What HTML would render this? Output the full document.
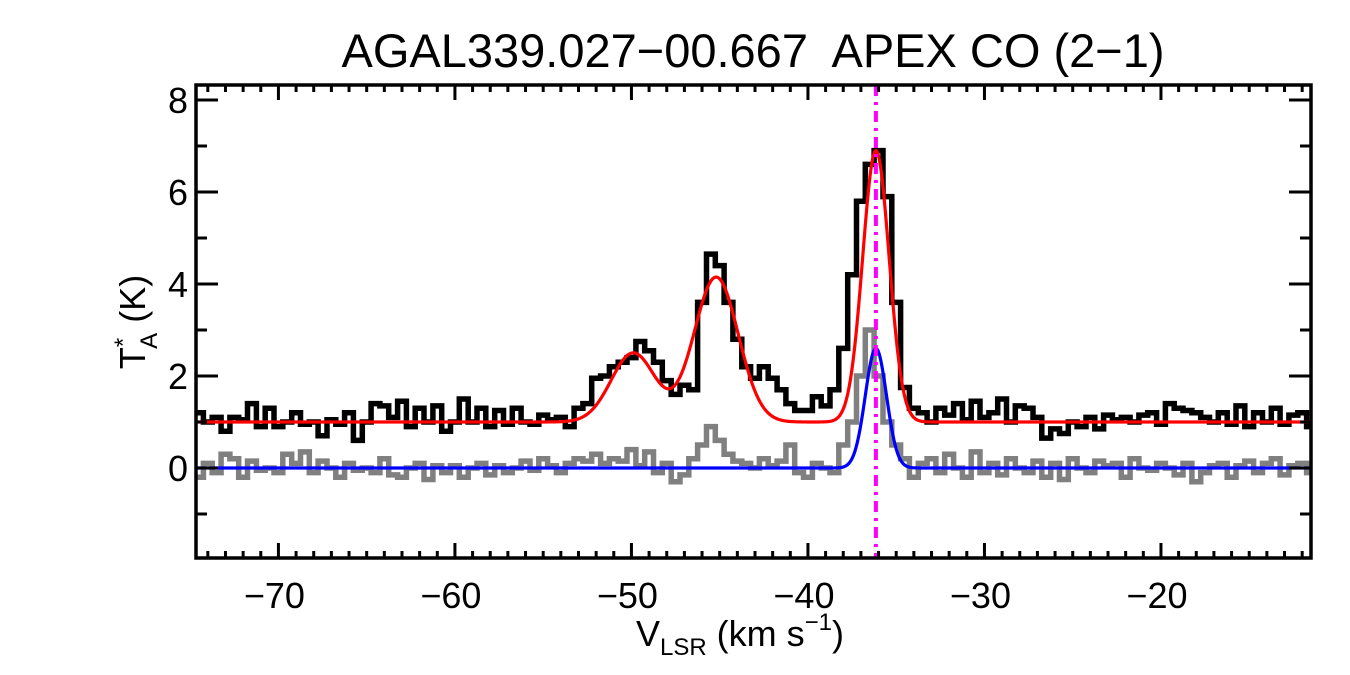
<!DOCTYPE html>
<html><head><meta charset="utf-8"><style>
body{margin:0;background:#fff;}
svg{display:block;font-family:"Liberation Sans",sans-serif;}
</style></head><body>
<svg id="chart" width="1350" height="675" viewBox="0 0 1350 675" xmlns="http://www.w3.org/2000/svg">
<text x="753" y="67" font-size="47" text-anchor="middle" xml:space="preserve">AGAL339.027−00.667  APEX CO (2−1)</text>
<g id="plot"></g>
<g transform="translate(145,322) rotate(-90)">
<text x="0" y="0" font-size="36" text-anchor="middle">T<tspan font-size="24" dy="-14">*</tspan><tspan font-size="24" dx="-11" dy="26">A</tspan><tspan dy="-12"> (K)</tspan></text>
</g>
<text x="740" y="646" font-size="36" text-anchor="middle">V<tspan font-size="24" dy="9">LSR</tspan><tspan dy="-9"> (km s</tspan><tspan font-size="24" dy="-16">−1</tspan><tspan dy="16">)</tspan></text>
</svg>
<script>
const velStart = -74.5;
const velStep = 0.5;
const tmbData = [1.2,1.0,1.1,0.8,1.1,1.05,1.4,0.9,1.3,0.9,1.0,1.2,0.95,1.0,0.7,1.05,0.95,1.2,0.6,1.0,1.4,1.35,1.1,1.45,0.9,1.3,1.0,1.35,0.8,1.0,1.5,1.0,1.3,0.9,1.25,0.95,1.3,1.0,0.95,1.15,1.05,1.1,0.9,1.3,
1.4,1.95,2.0,2.2,2.3,2.4,2.75,2.55,2.3,1.9,1.6,1.8,1.7,3.6,4.65,4.4,3.6,2.8,2.2,1.95,2.2,1.95,1.7,1.4,1.25,1.25,1.55,1.35,1.7,2.6,4.2,5.8,6.6,6.9,5.9,3.6,1.75,1.3,
1.2,1.0,1.3,1.15,1.4,1.05,1.45,1.1,1.2,1.5,1.0,1.35,1.3,1.1,0.65,0.85,0.75,1.0,0.9,1.1,0.85,1.15,1.05,1.1,1.0,1.15,1.2,0.95,1.4,1.3,1.25,1.2,1.1,1.0,1.2,0.95,1.35,0.9,1.2,1.0,1.3,0.95,1.15,1.2,0.9];
const residData = [-0.2,0.1,-0.1,0.3,0.2,-0.2,0.15,-0.05,0.0,-0.1,0.3,0.1,0.35,-0.1,0.15,0.0,-0.2,0.1,-0.05,0.0,-0.1,0.2,-0.15,-0.2,0.0,0.1,-0.25,0.05,-0.1,0.05,-0.2,0.0,0.1,-0.15,0.05,-0.1,0.0,0.15,-0.05,0.2,0.05,-0.1,0.1,0.2,
0.15,0.3,0.1,0.2,0.15,0.4,0.05,0.35,-0.1,0.1,-0.3,-0.15,0.2,0.5,0.9,0.6,0.3,0.15,0.1,0.0,0.2,0.05,0.15,0.5,-0.1,-0.2,0.1,0.0,-0.1,0.5,1.0,2.0,3.0,2.0,1.0,0.5,0.2,-0.2,
0.1,0.2,-0.1,0.3,0.0,-0.2,0.35,-0.1,0.1,-0.15,0.2,0.0,-0.1,0.15,-0.2,0.1,-0.25,0.2,0.0,-0.1,0.15,0.05,0.1,-0.2,0.2,0.0,-0.05,0.1,0.0,-0.15,0.1,-0.3,-0.1,0.05,0.1,-0.2,0.05,0.15,-0.1,0.1,0.2,-0.15,0.05,0.1,-0.1];
const fitBaseline = 1.0;
const fitCenters = [-49.9,-45.2,-36.15];
const fitAmps = [1.5,3.15,5.9];
const fitSigmas = [1.25,1.25,0.75];
const coreCenters = [-36.15];
const coreAmps = [2.6];
const coreSigmas = [0.6];
const markerVel = -36.15;
const xTicks = [-70,-60,-50,-40,-30,-20];
const xTickLabels = ["−70","−60","−50","−40","−30","−20"];
const yTicks = [0,2,4,6,8];
const yTickLabels = ["0","2","4","6","8"];

const NS="http://www.w3.org/2000/svg";
const L=196,R=1311,T=85,B=558;
const xMin=-74.67,xMax=-11.5;
const xs=v=>L+(v-xMin)/(xMax-xMin)*(R-L);
const ys=v=>468-(v)*46;
const plot=document.getElementById('plot');
function mk(tag,attrs){const e=document.createElementNS(NS,tag);for(const k in attrs)e.setAttribute(k,attrs[k]);plot.appendChild(e);return e;}
const clip=mk('clipPath',{id:'cp'});
const cr=document.createElementNS(NS,'rect');cr.setAttribute('x',L);cr.setAttribute('y',T);cr.setAttribute('width',R-L);cr.setAttribute('height',B-T);clip.appendChild(cr);

function histPath(data){
  let d='';
  data.forEach((v,i)=>{const c=velStart+velStep*i;const x0=xs(c-velStep/2),x1=xs(c+velStep/2),y=ys(v);
    d+=(i===0?'M':'L')+x0.toFixed(1)+','+y.toFixed(1)+'L'+x1.toFixed(1)+','+y.toFixed(1);});
  return d;
}
function gaussPath(base,cs,as,ss){
  let d='';
  for(let x=L;x<=R;x+=1){const v=xMin+(x-L)/(R-L)*(xMax-xMin);let y=base;
    for(let k=0;k<cs.length;k++)y+=as[k]*Math.exp(-((v-cs[k])**2)/(2*ss[k]*ss[k]));
    d+=(x===L?'M':'L')+x+','+ys(y).toFixed(2);}
  return d;
}
const resid=mk('path',{d:histPath(residData),fill:'none',stroke:'#808080','stroke-width':5.5,'clip-path':'url(#cp)'});


const spec=mk('path',{d:histPath(tmbData),fill:'none',stroke:'#000','stroke-width':5.5,'clip-path':'url(#cp)'});


const fit=mk('path',{d:gaussPath(fitBaseline,fitCenters,fitAmps,fitSigmas),fill:'none',stroke:'#ff0000','stroke-width':3.2});


const core=mk('path',{d:gaussPath(0,coreCenters,coreAmps,coreSigmas),fill:'none',stroke:'#0000ff','stroke-width':3.2});


const mv=mk('line',{x1:xs(markerVel),x2:xs(markerVel),y1:T,y2:B,stroke:'#ff00ff','stroke-width':4,'stroke-dasharray':'11 6 3 6'});



const fr=mk('rect',{x:L,y:T,width:R-L,height:B-T,fill:'none',stroke:'#000','stroke-width':3.5});


for(let v=Math.ceil(xMin);v<=xMax;v++){
  const major=v%10===0;const len=major?15:7;const x=xs(v);
  const t=mk('path',{d:`M${x},${B}V${B-len}M${x},${T}V${T+len}`,stroke:'#000','stroke-width':3});
  
  
}
xTicks.forEach((v,i)=>{
  const t=mk('text',{x:xs(v)-4,y:608,'font-size':36,'text-anchor':'middle'});t.textContent=xTickLabels[i];
  
  
});
for(let v=-1;v<=8;v++){
  const major=v%2===0;const len=major?22:11;const y=ys(v);
  const t=mk('path',{d:`M${L},${y}H${L+len}M${R},${y}H${R-len}`,stroke:'#000','stroke-width':3});
  
  
}
yTicks.forEach((v,i)=>{
  const t=mk('text',{x:188,y:ys(v)+13,'font-size':36,'text-anchor':'end'});t.textContent=yTickLabels[i];
  
  
});
</script>
</body></html>
